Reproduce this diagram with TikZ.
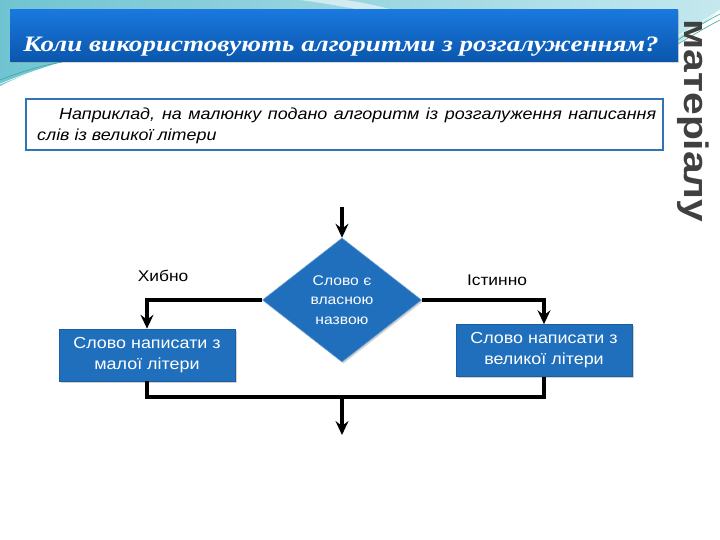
\documentclass[tikz,border=0pt]{standalone}
\usepackage{fontspec}
\setmainfont{Liberation Sans}[FakeStretch=1.12]
\newfontfamily\titlefont{Liberation Serif}[FakeStretch=1.23]
\newfontfamily\sidefont{Liberation Sans}[FakeStretch=1.2]
\usetikzlibrary{shapes.geometric,arrows.meta,shadows}
\definecolor{boxblue}{RGB}{31,111,188}
\definecolor{bartop}{RGB}{26,120,222}
\definecolor{barbot}{RGB}{10,86,172}
\definecolor{frameblue}{RGB}{46,117,182}
\definecolor{sidegray}{RGB}{64,64,64}
\definecolor{tealA}{RGB}{112,196,210}
\definecolor{tealB}{RGB}{196,232,238}
\definecolor{linegreen}{RGB}{60,170,150}
\tikzset{
  flowbox/.style={rectangle, fill=boxblue, draw=boxblue!85!black, line width=0.6pt,
    minimum width=176pt, minimum height=52pt, inner sep=2pt, text=white, align=center,
    font=\fontsize{16}{21}\selectfont,
    drop shadow={shadow xshift=1.5pt, shadow yshift=-1.5pt, opacity=0.35}},
  decide/.style={diamond, fill=boxblue, draw=boxblue!70!white, line width=0.6pt,
    minimum width=159pt, minimum height=124pt, inner sep=0pt, text=white, align=center,
    font=\fontsize{14}{19.5}\selectfont,
    drop shadow={shadow xshift=1.5pt, shadow yshift=-1.5pt, opacity=0.35}},
  conn/.style={line width=3.2pt, black},
  arr/.style={conn, -{Stealth[length=14pt, width=13pt, inset=5pt]}},
  lbl/.style={font=\fontsize{15.5}{18}\selectfont, text=black},
}
\begin{document}
\begin{tikzpicture}[x=1pt, y=-1pt]
\useasboundingbox (0,0) rectangle (720,540);
\fill[white] (0,0) rectangle (720,540);
% header background
\shade[left color=tealA, right color=tealB]
  (0,0) -- (720,0) -- (720,10) .. controls (705,22) and (690,34) .. (678,44)
  -- (678,10) -- (10,10) -- (10,62) -- (62,62)
  .. controls (40,68) and (20,76) .. (0,86) -- cycle;
\fill[white, opacity=0.55] (300,0) .. controls (330,4) and (350,8) .. (372,12)
  -- (400,12) .. controls (380,6) and (360,2) .. (345,0) -- cycle;
\draw[linegreen, line width=0.6pt] (0,80) .. controls (20,72) and (40,66) .. (62,62);
\draw[white, line width=0.6pt] (0,84) .. controls (20,76) and (40,68) .. (70,62);
\draw[linegreen, line width=0.6pt] (678,40) .. controls (695,28) and (708,20) .. (720,14);
\draw[white, line width=0.6pt] (678,36) .. controls (695,26) and (708,18) .. (720,10);
\draw[linegreen, line width=0.6pt] (678,44) .. controls (695,34) and (708,26) .. (720,20);
% title bar
\shade[top color=bartop, bottom color=barbot, drop shadow={shadow xshift=1pt, shadow yshift=-1.5pt, opacity=0.3}]
  (10,10) rectangle (678,62);
\node[text=white, anchor=base, font=\titlefont\bfseries\itshape\fontsize{22}{25}\selectfont] (title) at (341,52)
  {Коли використовують алгоритми з розгалуженням?};
% side text
\node[rotate=-90, text=sidegray, font=\sidefont\bfseries\fontsize{34}{38}\selectfont] (side) at (693,121) {матеріалу};
% example box
\draw[frameblue, line width=2pt, fill=white] (26,99) rectangle (663,150);
\node[anchor=north west, text width=619pt, align=justify, inner sep=0pt,
  font=\itshape\fontsize{16}{21}\selectfont] (example) at (37,108)
  {\hspace*{22pt}Наприклад, на малюнку подано алгоритм із розгалуження написання\linebreak слів із великої літери};
% flowchart
\coordinate (start) at (342,207);
\node[decide] (D) at (342,300) {Слово є\\власною\\назвою};
\node[flowbox] (L) at (147,355) {Слово написати з\\малої літери};
\node[flowbox] (R) at (544,350.5) {Слово написати з\\великої літери};
\coordinate (jl) at (147,397);
\coordinate (jr) at (544,397);
\coordinate (j) at (342,397);
\coordinate (end) at (342,435);
\draw[arr] (start) -- (D.north);
\draw[arr] (D.west) -| (L.north);
\draw[arr] (D.east) -| (R.north);
\draw[conn, line join=miter] (L.south) -- (jl) -- (jr) -- (R.south);
\draw[arr] (j) -- (end);
\node[lbl] (false) at (163,276) {Хибно};
\node[lbl] (true) at (497,280) {Істинно};
\end{tikzpicture}
\end{document}
